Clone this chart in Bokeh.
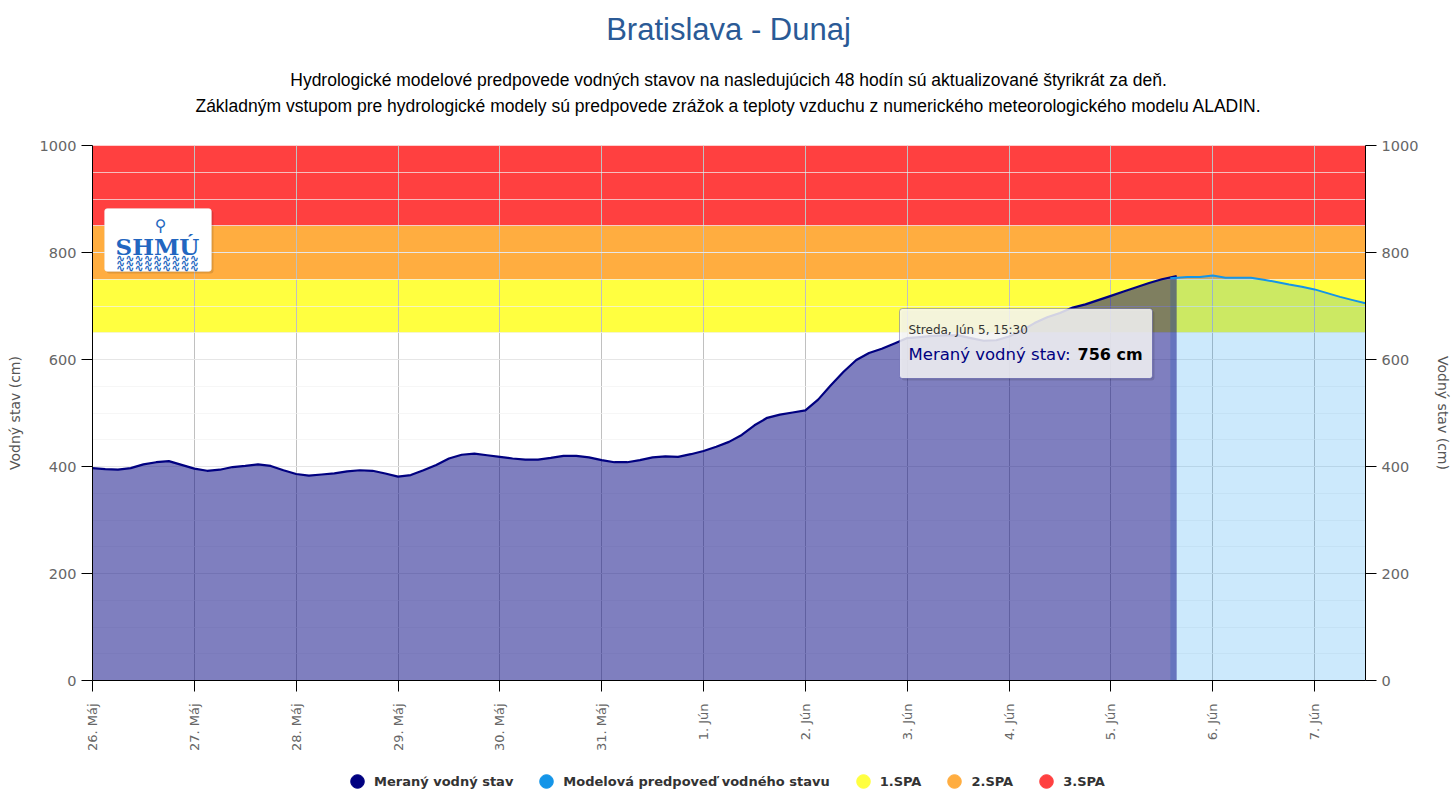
import math
import pandas as pd
from bokeh.plotting import figure
from bokeh.layouts import column
from bokeh.models import (Range1d, LinearAxis, FixedTicker, BoxAnnotation, Label,
                          Legend, LegendItem)
from bokeh.embed import file_html
from bokeh.resources import INLINE

# ---------------- data ----------------
TITLE = "Bratislava - Dunaj"
SUBTITLE = [
    "Hydrologické modelové predpovede vodných stavov na nasledujúcich 48 hodín sú aktualizované štyrikrát za deň.",
    "Základným vstupom pre hydrologické modely sú predpovede zrážok a teploty vzduchu z numerického meteorologického modelu ALADIN.",
]
Y_TITLE = "Vodný stav (cm)"

measured_name = "Meraný vodný stav"
measured_start = "2024-05-26 00:00"
measured_values = [
    397, 395, 394, 397, 404, 408, 410, 403,   # 26. Máj
    396, 392, 394, 399, 401, 404, 401, 393,   # 27. Máj
    386, 383, 385, 387, 391, 393, 392, 387,   # 28. Máj
    381, 384, 393, 403, 415, 422, 424, 421,   # 29. Máj
    418, 415, 413, 413, 416, 420, 420, 417,   # 30. Máj
    412, 408, 408, 412, 417, 419, 418, 423,   # 31. Máj
    429, 437, 446, 459, 477, 491, 497, 501,   # 1. Jún
    505, 525, 552, 577, 599, 612, 620, 630,   # 2. Jún
    640, 642, 644, 645, 645, 640, 635, 636,   # 3. Jún
    643, 654, 668, 679, 687, 697, 703, 711,   # 4. Jún
    719, 727, 735, 743, 750,                  # 5. Jún 00:00-12:00
]
measured_last_time = "2024-06-05 15:30"
measured_last_value = 756

forecast_name = "Modelová predpoveď vodného stavu"
forecast_times = [
    "2024-06-05 14:00", "2024-06-05 18:00", "2024-06-05 21:00",
    "2024-06-06 00:00", "2024-06-06 03:00", "2024-06-06 06:00", "2024-06-06 09:00",
    "2024-06-06 12:00", "2024-06-06 15:00", "2024-06-06 18:00", "2024-06-06 21:00",
    "2024-06-07 00:00", "2024-06-07 03:00", "2024-06-07 06:00", "2024-06-07 09:00",
    "2024-06-07 12:00",
]
forecast_values = [752, 754, 754, 757, 753, 753, 753, 749, 745, 740, 736,
                   731, 724, 717, 711, 705]

spa_names = ["1.SPA", "2.SPA", "3.SPA"]
spa_bottoms = [650, 750, 850]
spa_tops = [750, 850, 1000]
spa_colors = ["#ffff40", "#ffad40", "#ff4040"]

x_tick_dates = ["2024-05-26", "2024-05-27", "2024-05-28", "2024-05-29", "2024-05-30",
                "2024-05-31", "2024-06-01", "2024-06-02", "2024-06-03", "2024-06-04",
                "2024-06-05", "2024-06-06", "2024-06-07"]
x_tick_labels = ["26. Máj", "27. Máj", "28. Máj", "29. Máj", "30. Máj", "31. Máj",
                 "1. Jún", "2. Jún", "3. Jún", "4. Jún", "5. Jún", "6. Jún", "7. Jún"]
y_ticks = [0, 200, 400, 600, 800, 1000]
y_minor_ticks = [50, 100, 150, 250, 300, 350, 450, 500, 550, 650, 700, 750, 850, 900, 950]

x_start = "2024-05-26 00:00"
x_end = "2024-06-07 12:00"

tooltip_header = "Streda, Jún 5, 15:30"

# ---------------- helpers ----------------
EPOCH = pd.Timestamp("1970-01-01")


def ms(t):
    return int((pd.Timestamp(t) - EPOCH) // pd.Timedelta("1ms"))


W = 1455
TOP_H = 135          # title strip height
LEG_TOP = 763        # legend strip starts here (page px)
H_TOTAL = 801
MAIN_H = LEG_TOP - TOP_H

X0, X1 = ms(x_start), ms(x_end)
Y0, Y1 = 0, 1000
# frame in page pixels (for placing decorations only)
FL, FR, FT, FB = 92, 1365, 145, 680


def PX(px):
    return X0 + (px - FL) / (FR - FL) * (X1 - X0)


def PY(py):
    return Y0 + (FB - py) / (FB - FT) * (Y1 - Y0)


measured_times = list(pd.date_range(measured_start, periods=len(measured_values), freq="3h")) \
    + [pd.Timestamp(measured_last_time)]
measured_all = measured_values + [measured_last_value]
m_x = pd.DatetimeIndex(measured_times)
f_x = pd.DatetimeIndex(pd.to_datetime(forecast_times))

FONT = "DejaVu Sans"
ARIAL = "Liberation Sans"

# ================= title strip =================
pt = figure(width=W, height=TOP_H, x_range=Range1d(FL, FR), y_range=Range1d(TOP_H, 0),
            x_axis_type=None, y_axis_type=None, output_backend="svg",
            toolbar_location=None, min_border_left=FL, min_border_right=W - FR,
            min_border_top=0, min_border_bottom=0)
pt.outline_line_color = None
pt.add_layout(Label(x=728, y=29, text=TITLE, text_font=ARIAL, text_font_size="31px",
                    text_color="#2a5a96", text_align="center", text_baseline="middle"))
for i, line in enumerate(SUBTITLE):
    pt.add_layout(Label(x=728, y=79 + 26 * i, text=line, text_font=ARIAL,
                        text_font_size="17.5px", text_color="#000000",
                        text_align="center", text_baseline="middle"))

# ================= main chart =================
p = figure(width=W, height=MAIN_H, x_axis_type="datetime",
           x_range=Range1d(X0, X1), y_range=Range1d(Y0, Y1),
           output_backend="svg", toolbar_location=None, title=None,
           min_border_left=FL, min_border_right=W - FR,
           min_border_top=FT - TOP_H, min_border_bottom=LEG_TOP - FB)
p.outline_line_color = None
p.background_fill_color = "white"
p.border_fill_color = "white"

# --- SPA bands (below grid) ---
for b, t, c in zip(spa_bottoms, spa_tops, spa_colors):
    p.add_layout(BoxAnnotation(bottom=b, top=t, fill_color=c, fill_alpha=1.0,
                               line_color=None, level="image"))

# --- grids ---
xt = FixedTicker(ticks=[ms(d) for d in x_tick_dates])
p.xgrid.ticker = xt
p.xgrid.grid_line_color = "#c0c0c0"
p.xgrid.grid_line_width = 1
yt = FixedTicker(ticks=y_ticks, minor_ticks=y_minor_ticks)
p.ygrid.ticker = yt
p.ygrid.grid_line_color = "#e6e6e6"
p.ygrid.minor_grid_line_color = "#f2f2f2"
p.ygrid.minor_grid_line_alpha = 0.7

# --- series ---
p.varea(x=f_x, y1=0, y2=forecast_values, fill_color="#0090f0", fill_alpha=0.2)
p.varea(x=m_x, y1=0, y2=measured_all, fill_color="#000080", fill_alpha=0.5)
p.line(x=m_x, y=measured_all, line_color="#000080", line_width=2.2)
p.line(x=f_x, y=forecast_values, line_color="#1495e8", line_width=2)

# --- axes ---
xa = p.xaxis[0]
xa.ticker = xt
xa.major_label_overrides = {ms(d): lab for d, lab in zip(x_tick_dates, x_tick_labels)}
xa.major_label_orientation = math.pi / 2
xa.major_label_text_font = FONT
xa.major_label_text_font_size = "13px"
xa.major_label_text_color = "#666666"
xa.major_label_standoff = 12
xa.axis_line_color = "black"
xa.major_tick_line_color = "black"
xa.major_tick_out = 11
xa.major_tick_in = 0
xa.minor_tick_line_color = None

ya = p.yaxis[0]
ya.ticker = yt
ya.axis_label = Y_TITLE
ra = LinearAxis(ticker=yt, axis_label=Y_TITLE)
p.add_layout(ra, "right")
for ax in (ya, ra):
    ax.axis_line_color = "black"
    ax.major_tick_line_color = "black"
    ax.major_tick_out = 11
    ax.major_tick_in = 0
    ax.minor_tick_line_color = None
    ax.major_label_text_font = FONT
    ax.major_label_text_font_size = "14.5px"
    ax.major_label_text_color = "#666666"
    ax.major_label_standoff = 5
    ax.axis_label_text_font = FONT
    ax.axis_label_text_font_size = "14px"
    ax.axis_label_text_font_style = "normal"
    ax.axis_label_text_color = "#555555"
    ax.axis_label_standoff = 14

# --- SHMU logo ---
p.add_layout(BoxAnnotation(left=PX(106), right=PX(213), top=PY(210), bottom=PY(273),
                           fill_color="black", fill_alpha=0.12, line_color=None,
                           border_radius=3, level="annotation"))
p.add_layout(BoxAnnotation(left=PX(104), right=PX(211), top=PY(208), bottom=PY(271),
                           fill_color="white", fill_alpha=1.0, line_color="#e0e0e0",
                           border_radius=3, level="annotation"))
p.add_layout(Label(x=PX(160), y=PY(225), text="⚲", text_font=FONT, text_font_size="16px",
                   text_color="#2266c0", text_align="center", text_baseline="middle"))
p.add_layout(Label(x=PX(157), y=PY(246), text="SHMÚ", text_font="DejaVu Serif",
                   text_font_style="bold", text_font_size="23px", text_color="#2266c0",
                   text_align="center", text_baseline="middle"))
for k in range(3):
    p.add_layout(Label(x=PX(157), y=PY(258 + 5 * k), text="∿∿∿∿∿∿∿∿∿", text_font=FONT,
                       text_font_style="bold", text_font_size="11px", text_color="#2266c0",
                       text_align="center", text_baseline="middle"))

# --- tooltip ---
p.add_layout(BoxAnnotation(left=PX(901), right=PX(1154), top=PY(310), bottom=PY(380),
                           fill_color="black", fill_alpha=0.12, line_color=None,
                           border_radius=3, level="annotation"))
p.add_layout(BoxAnnotation(left=PX(899), right=PX(1152), top=PY(308), bottom=PY(378),
                           fill_color="#f7f7f7", fill_alpha=0.85, line_color="#000080",
                           line_width=1, border_radius=3, level="annotation"))
p.add_layout(Label(x=PX(908), y=PY(329), text=tooltip_header, text_font=FONT,
                   text_font_size="12px", text_color="#333333",
                   text_align="left", text_baseline="middle"))
p.add_layout(Label(x=PX(908), y=PY(354), text=measured_name + ":", text_font=FONT,
                   text_font_size="16.5px", text_color="#000080",
                   text_align="left", text_baseline="middle"))
p.add_layout(Label(x=PX(1077), y=PY(354), text=f"{measured_last_value} cm", text_font=FONT,
                   text_font_size="16px", text_font_style="bold", text_color="#000000",
                   text_align="left", text_baseline="middle"))

# ================= legend strip =================
LEG_H = H_TOTAL - LEG_TOP
pl = figure(width=W, height=LEG_H, x_range=Range1d(FL, FR), y_range=Range1d(0, LEG_H),
            x_axis_type=None, y_axis_type=None, output_backend="svg",
            toolbar_location=None, min_border_left=FL, min_border_right=W - FR,
            min_border_top=0, min_border_bottom=0)
pl.outline_line_color = None
leg_names = [measured_name, forecast_name] + spa_names
leg_colors = ["#000080", "#1495e8"] + spa_colors
items = []
for n, c in zip(leg_names, leg_colors):
    # off-screen point so that the legend draws its marker
    r = pl.scatter(x=[-10000], y=[-10000], marker="circle", size=14, fill_color=c, line_color=c)
    items.append(LegendItem(label=n, renderers=[r]))
GLY = 34
legend = Legend(items=items, orientation="horizontal",
                location=(357 - GLY / 2 - FL, LEG_H - (781 - LEG_TOP) - GLY / 2),
                glyph_width=GLY, glyph_height=GLY, label_standoff=0, spacing=16,
                padding=0, margin=0, border_line_color=None, background_fill_alpha=0,
                label_text_font=FONT, label_text_font_style="bold",
                label_text_font_size="13px", label_text_color="#333333")
pl.add_layout(legend, "center")

layout = column(pt, p, pl, spacing=0)
open("out.html", "w").write(file_html(layout, INLINE))
